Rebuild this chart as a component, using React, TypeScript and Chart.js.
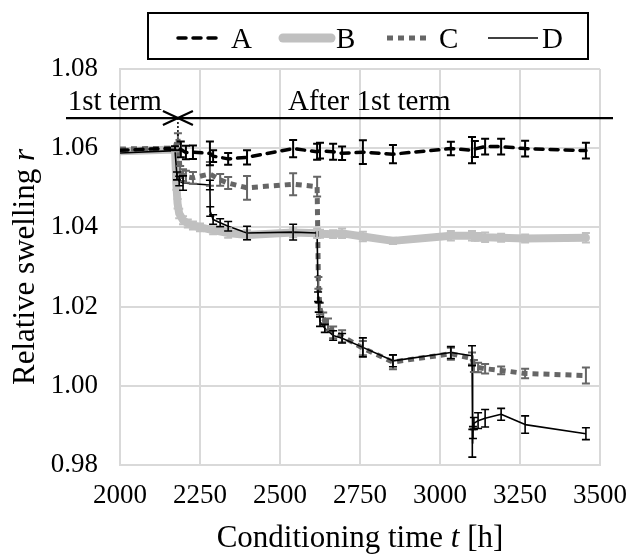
import React, { useEffect, useRef } from "react";
import { Chart, registerables } from "chart.js";
Chart.register(...registerables);

const FONT = "'Liberation Serif', 'Times New Roman', serif";

const seriesNames = ["A", "B", "C", "D"];

const aTime = [2000, 2172, 2190, 2206, 2228, 2281, 2291, 2338, 2397, 2541, 2616, 2625, 2666, 2694, 2759, 2853, 3034, 3100, 3109, 3141, 3191, 3266, 3456];
const aValue = [1.0595, 1.06, 1.0597, 1.0589, 1.059, 1.0587, 1.058, 1.0573, 1.0577, 1.0599, 1.0591, 1.0594, 1.0591, 1.0587, 1.059, 1.0585, 1.0599, 1.0595, 1.0598, 1.0604, 1.0604, 1.0599, 1.0594];
const aErr = [0, 0.0005, 0.002, 0.0017, 0.0017, 0.003, 0.0015, 0.0015, 0.0018, 0.0022, 0.002, 0.002, 0.002, 0.0017, 0.003, 0.0023, 0.0017, 0.0033, 0.002, 0.002, 0.002, 0.002, 0.002];

const bTime = [2000, 2172, 2176, 2180, 2185, 2197, 2212, 2228, 2250, 2291, 2338, 2397, 2541, 2616, 2625, 2666, 2694, 2759, 2853, 3034, 3100, 3109, 3119, 3141, 3191, 3266, 3456];
const bValue = [1.0592, 1.0597, 1.051, 1.046, 1.0435, 1.0418, 1.041, 1.0405, 1.04, 1.0393, 1.0386, 1.0381, 1.0387, 1.0385, 1.0384, 1.0383, 1.0385, 1.0377, 1.0366, 1.0379, 1.0379, 1.0376, 1.0376, 1.0375, 1.0374, 1.0372, 1.0374];
const bErr = [0, 0.0005, 0.0015, 0.0012, 0.0012, 0.001, 0.001, 0.001, 0.001, 0.001, 0.0012, 0.0012, 0.0012, 0.0012, 0.001, 0.001, 0.0012, 0.0012, 0.0008, 0.0012, 0.0012, 0.001, 0.001, 0.0012, 0.001, 0.001, 0.0012];

const cTime = [2000, 2172, 2181, 2188, 2197, 2206, 2228, 2281, 2313, 2338, 2397, 2541, 2616, 2620, 2625, 2635, 2650, 2666, 2694, 2759, 2853, 3034, 3100, 3106, 3119, 3141, 3191, 3266, 3456];
const cValue = [1.0598, 1.06, 1.0625, 1.054, 1.0532, 1.0528, 1.0525, 1.0535, 1.052, 1.0512, 1.05, 1.0509, 1.0503, 1.026, 1.0195, 1.017, 1.0155, 1.0135, 1.0125, 1.0095, 1.006, 1.0081, 1.0069, 1.005, 1.0046, 1.0043, 1.0039, 1.0031, 1.0026];
const cErr = [0, 0, 0.0013, 0.0015, 0.0015, 0.0015, 0.0015, 0.003, 0.0015, 0.0015, 0.003, 0.0028, 0.0025, 0.0015, 0.0015, 0.0015, 0.0015, 0.0015, 0.0015, 0.0018, 0.0018, 0.0015, 0.0015, 0.0015, 0.0012, 0.0012, 0.001, 0.0012, 0.002];

const dTime = [2000, 2172, 2178, 2185, 2197, 2281, 2282, 2291, 2313, 2338, 2397, 2541, 2616, 2619, 2621, 2625, 2640, 2666, 2694, 2759, 2853, 3034, 3100, 3101, 3103, 3106, 3119, 3141, 3191, 3266, 3456];
const dValue = [1.0588, 1.0594, 1.053, 1.0517, 1.0512, 1.0507, 1.044, 1.042, 1.0412, 1.0403, 1.0386, 1.0388, 1.0386, 1.0225, 1.0198, 1.0162, 1.0145, 1.0127, 1.012, 1.0097, 1.0063, 1.0084, 1.0076, 0.9855, 0.9882, 0.9905, 0.9912, 0.9918, 0.9928, 0.9902, 0.9879];
const dErr = [0, 0, 0.001, 0.0012, 0.0018, 0.0012, 0.0012, 0.0012, 0.001, 0.0012, 0.0017, 0.002, 0, 0.0012, 0.0012, 0.0012, 0.001, 0.0012, 0.0012, 0.0024, 0.0015, 0.0015, 0.0025, 0.0035, 0.0015, 0.0015, 0.002, 0.0022, 0.0015, 0.0022, 0.0015];

const xMin = 2000, xMax = 3500, xStep = 250;
const yMin = 0.98, yMax = 1.08, yStep = 0.02;

const termBoundary = 2181;
const termLineValue = 1.0676;
const termDotEnd = 1.0625;
const termLabels = ["1st term", "After 1st term"];
const xTitle = ["Conditioning time ", "t", " [h]"];
const yTitle = ["Relative swelling ", "r"];

const pts = (t: number[], v: number[]) => t.map((x, i) => ({ x, y: v[i] }));

const styles = [
  { color: "#000000", width: 3.5, dash: [8, 7], cap: "round", err: aErr, errColor: "#000000", errWidth: 2, order: 0 },
  { color: "#c0c0c0", width: 8, dash: [], cap: "round", err: bErr, errColor: "#c0c0c0", errWidth: 2, order: 3 },
  { color: "#666666", width: 5, dash: [6, 5], cap: "butt", err: cErr, errColor: "#666666", errWidth: 2, order: 2 },
  { color: "#000000", width: 1.6, dash: [], cap: "butt", err: dErr, errColor: "#000000", errWidth: 1.6, order: 1 },
];

function drawMixed(ctx: CanvasRenderingContext2D, parts: string[], italicIdx: number[], size: number, cx: number, y: number) {
  const fonts = parts.map((_, i) => (italicIdx.includes(i) ? "italic " : "") + size + "px " + FONT);
  let total = 0;
  const widths = parts.map((p, i) => { ctx.font = fonts[i]; const w = ctx.measureText(p).width; total += w; return w; });
  let x = cx - total / 2;
  parts.forEach((p, i) => { ctx.font = fonts[i]; ctx.fillText(p, x, y); x += widths[i]; });
}

const errorBarPlugin = {
  id: "errorBars",
  afterDatasetsDraw(chart: any) {
    const ctx = chart.ctx; const xs = chart.scales.x; const ys = chart.scales.y;
    ctx.save();
    const area = chart.chartArea;
    ctx.beginPath(); ctx.rect(area.left, area.top - 2, area.right - area.left, area.bottom - area.top + 4); ctx.clip();
    for (const idx of [1, 2, 3, 0]) {
      const ds = chart.data.datasets[idx];
      ctx.strokeStyle = ds.errColor; ctx.lineWidth = ds.errWidth; ctx.setLineDash([]); ctx.lineCap = "butt";
      ds.data.forEach((p: any, i: number) => {
        const e = ds.errors[i]; if (!e) return;
        const px = xs.getPixelForValue(p.x);
        const y1 = ys.getPixelForValue(p.y + e); const y2 = ys.getPixelForValue(p.y - e);
        ctx.beginPath();
        ctx.moveTo(px, y1); ctx.lineTo(px, y2);
        ctx.moveTo(px - 4, y1); ctx.lineTo(px + 4, y1);
        ctx.moveTo(px - 4, y2); ctx.lineTo(px + 4, y2);
        ctx.stroke();
      });
    }
    ctx.restore();
  },
};

const decorPlugin = {
  id: "decor",
  afterDraw(chart: any) {
    const ctx = chart.ctx; const xs = chart.scales.x; const ys = chart.scales.y;
    const area = chart.chartArea;
    ctx.save();
    const ly = ys.getPixelForValue(termLineValue);
    const bx = xs.getPixelForValue(termBoundary);
    ctx.strokeStyle = "#000"; ctx.lineWidth = 2.2; ctx.setLineDash([]);
    ctx.beginPath(); ctx.moveTo(66, ly); ctx.lineTo(area.right + 13, ly); ctx.stroke();
    ctx.beginPath();
    ctx.moveTo(bx - 15, ly - 7); ctx.lineTo(bx + 15, ly + 7);
    ctx.moveTo(bx - 15, ly + 7); ctx.lineTo(bx + 15, ly - 7);
    ctx.stroke();
    ctx.lineWidth = 1.5; ctx.setLineDash([2, 2]);
    ctx.beginPath(); ctx.moveTo(bx, ly); ctx.lineTo(bx, ys.getPixelForValue(termDotEnd)); ctx.stroke();
    ctx.setLineDash([]);
    ctx.fillStyle = "#000";
    ctx.font = "29px " + FONT; ctx.textBaseline = "alphabetic";
    ctx.textAlign = "right"; ctx.fillText(termLabels[0], bx - 16, ly - 8);
    ctx.textAlign = "left"; ctx.fillText(termLabels[1], 288, ly - 8);

    ctx.textAlign = "left";
    drawMixed(ctx, xTitle, [1], 31, (area.left + area.right) / 2, 547);
    ctx.save();
    ctx.translate(34, (area.top + area.bottom) / 2);
    ctx.rotate(-Math.PI / 2);
    drawMixed(ctx, yTitle, [1], 31, 0, 0);
    ctx.restore();

    const bxl = 148, byt = 13, bw = 440, bh = 46;
    ctx.lineWidth = 2; ctx.strokeStyle = "#000";
    ctx.strokeRect(bxl, byt, bw, bh);
    const cy = byt + bh / 2 + 2;
    const items = [
      { x0: 178, x1: 219, tx: 231 },
      { x0: 283, x1: 331, tx: 336 },
      { x0: 387, x1: 431, tx: 439 },
      { x0: 488, x1: 538, tx: 542 },
    ];
    ctx.font = "29px " + FONT; ctx.textBaseline = "middle"; ctx.textAlign = "left";
    items.forEach((it, i) => {
      const s = styles[i];
      ctx.strokeStyle = s.color; ctx.lineWidth = i === 1 ? 9 : s.width; ctx.setLineDash(s.dash); ctx.lineCap = s.cap as CanvasLineCap;
      ctx.beginPath(); ctx.moveTo(it.x0, cy); ctx.lineTo(it.x1, cy); ctx.stroke();
      ctx.setLineDash([]); ctx.lineCap = "butt";
      ctx.fillStyle = "#000"; ctx.fillText(seriesNames[i], it.tx, cy + 2);
    });
    ctx.restore();
  },
};

export default function App() {
  const ref = useRef<HTMLCanvasElement | null>(null);
  useEffect(() => {
    document.body.style.margin = "0";
    const canvas = ref.current!;
    const times = [aTime, bTime, cTime, dTime];
    const values = [aValue, bValue, cValue, dValue];
    const chart = new Chart(canvas, {
      type: "line",
      data: {
        datasets: seriesNames.map((name, i) => ({
          label: name,
          data: pts(times[i], values[i]),
          borderColor: styles[i].color,
          backgroundColor: styles[i].color,
          borderWidth: styles[i].width,
          borderDash: styles[i].dash,
          borderCapStyle: styles[i].cap,
          borderJoinStyle: "round",
          pointRadius: 0,
          tension: 0,
          order: styles[i].order,
          errors: styles[i].err,
          errColor: styles[i].errColor,
          errWidth: styles[i].errWidth,
        })) as any,
      },
      options: {
        animation: false,
        responsive: false,
        devicePixelRatio: 1,
        layout: { padding: { top: 69, right: 30, left: 0, bottom: 0 } },
        plugins: { legend: { display: false }, tooltip: { enabled: false }, title: { display: false } },
        scales: {
          x: {
            type: "linear", min: xMin, max: xMax,
            ticks: { stepSize: xStep, color: "#000", font: { family: FONT, size: 27 }, padding: 15, maxRotation: 0, autoSkip: false, callback: (v: any) => String(v) },
            grid: { color: "#d9d9d9", lineWidth: 2, drawTicks: false },
            border: { color: "#d9d9d9", width: 2 },
            afterFit: (s: any) => { s.height = 89; s.paddingLeft = 0; s.paddingRight = 0; },
          },
          y: {
            min: yMin, max: yMax,
            ticks: { stepSize: yStep, color: "#000", font: { family: FONT, size: 27 }, padding: 22, callback: (v: any) => Number(v).toFixed(2) },
            grid: { color: "#d9d9d9", lineWidth: 2, drawTicks: false },
            border: { color: "#d9d9d9", width: 2 },
            afterFit: (s: any) => { s.width = 120; s.paddingTop = 0; s.paddingBottom = 0; },
          },
        },
      },
      plugins: [errorBarPlugin, decorPlugin],
    });
    return () => chart.destroy();
  }, []);
  return (
    <div style={{ width: 630, height: 554 }}>
      <canvas ref={ref} width={630} height={554} style={{ width: 630, height: 554, display: "block" }} />
    </div>
  );
}
